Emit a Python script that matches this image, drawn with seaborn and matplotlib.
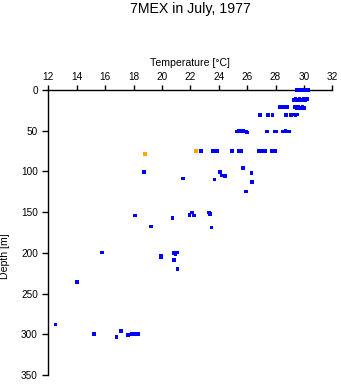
import matplotlib
matplotlib.use("Agg")
import matplotlib.pyplot as plt
import seaborn as sns
import pandas as pd

# Temperature [°C] and depth [m] of each bottle sample
temperature = [
    29.5, 29.6, 29.7, 29.8, 29.9, 30.0, 30.3,
    29.3, 29.4, 29.5, 29.6, 29.7, 29.8, 29.9, 30.0, 30.1, 30.2,
    28.3, 28.45, 28.6, 28.8, 29.35, 29.5, 29.6, 29.75, 29.9, 30.0,
    26.9, 27.45, 27.8, 28.75, 29.1, 29.25, 29.4, 29.55,
    25.3, 25.45, 25.6, 25.75, 25.9, 26.0, 27.4, 27.95, 28.05, 28.55, 28.7, 28.85, 28.95,
    22.4, 22.75, 23.6, 23.9, 24.95, 25.4, 25.55, 26.85, 27.1, 27.3, 27.75, 28.0, 18.8,
    18.75, 21.5, 24.1, 24.2, 24.45, 23.7, 25.7, 26.3, 26.35, 25.9,
    18.1, 19.25, 20.75, 22.1, 21.95, 22.25, 23.3, 23.4, 23.5,
    15.8, 19.95, 19.95, 20.85, 20.95, 21.05, 20.85, 21.1,
    14.0, 12.5, 15.2, 16.8, 17.1, 17.6, 17.9, 18.15, 18.3,
]
depth = [
    0, 0, 0, 0, 0, 0, 0,
    12, 11, 13, 12, 11, 13, 12, 11, 12, 11,
    21, 21, 21, 21, 21, 22, 21, 22, 21, 22,
    31, 31, 31, 31, 31, 30, 31, 30,
    51, 50, 50, 50, 51, 52, 51, 51, 51, 51, 50, 51, 51,
    75, 75, 75, 75, 75, 75, 75, 75, 75, 75, 75, 75, 79,
    101, 108.5, 101, 105, 106, 110, 96, 102, 113, 124.5,
    154, 167.5, 157.5, 150.5, 153.5, 154, 150.5, 152, 169,
    199.5, 203.5, 205.5, 200.5, 202, 199.5, 209, 219.5,
    236, 288, 300, 303, 296, 301, 300, 300, 300,
]
# Samples flagged as questionable
flagged = [(22.4, 75), (18.8, 79)]

x_ticks = [12, 14, 16, 18, 20, 22, 24, 26, 28, 30, 32]
y_ticks = [0, 50, 100, 150, 200, 250, 300, 350]

df = pd.DataFrame({"temperature": temperature, "depth": depth})
df["flag"] = ["flagged" if (t, d) in flagged else "good"
              for t, d in zip(temperature, depth)]

plt.rcParams["font.family"] = ["Liberation Sans", "DejaVu Sans"]

W, H = 341, 384
fig = plt.figure(figsize=(W / 100, H / 100), dpi=100)
ax = fig.add_axes([48.3 / W, 1 - 375 / H, (332.3 - 48.3) / W, (375 - 90) / H])

sns.scatterplot(data=df, x="temperature", y="depth", hue="flag",
                palette={"good": "#0000ff", "flagged": "#ffa500"},
                marker="s", s=7, linewidth=0, legend=False,
                ax=ax, clip_on=False, zorder=5)

ax.set_xlim(12, 32)
ax.set_ylim(350, 0)
ax.set_xticks(x_ticks)
ax.set_yticks(y_ticks)
ax.xaxis.tick_top()
ax.xaxis.set_label_position("top")
ax.spines["right"].set_visible(False)
ax.spines["bottom"].set_visible(False)
for side in ("left", "top"):
    ax.spines[side].set_linewidth(1.0)
    ax.spines[side].set_color("black")
ax.tick_params(axis="x", length=3.8, width=1.0, pad=2, labelsize=7.2)
ax.tick_params(axis="y", length=4.5, width=1.0, pad=3, labelsize=7.2)

ax.set_xlabel("Temperature [°C]", fontsize=7.6, labelpad=4)
ax.set_ylabel("")
fig.text(5.5 / W, 1 - 256 / H, "Depth [m]", rotation=90,
         ha="center", va="center", fontsize=7.6)
fig.text(190.3 / W, 1 - 8.5 / H, "7MEX in July, 1977",
         ha="center", va="center", fontsize=10.2)

fig.savefig("out.png", dpi=100, facecolor="white")
